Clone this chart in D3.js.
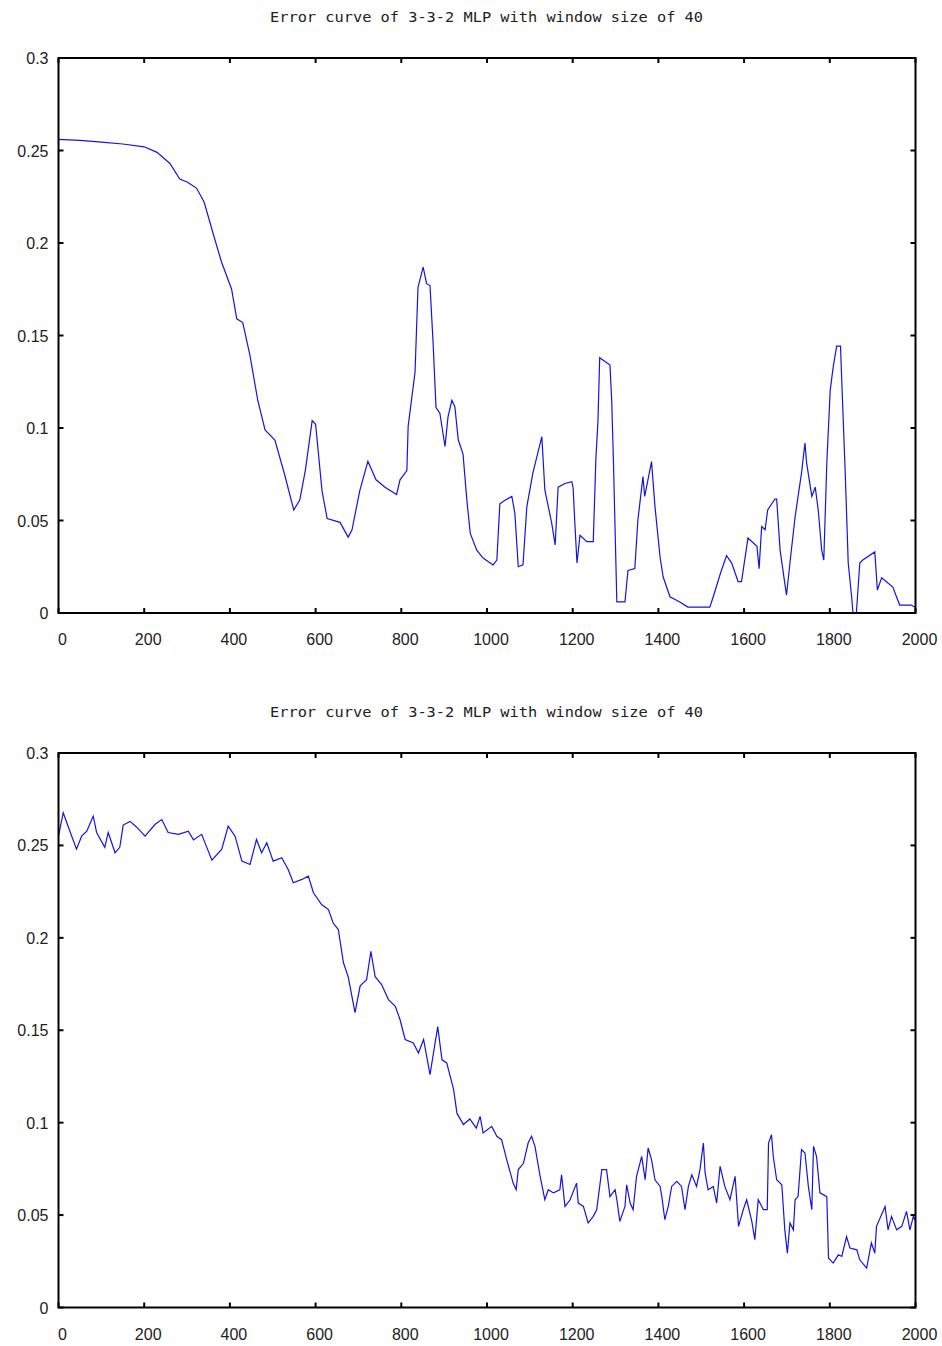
<!DOCTYPE html>
<html><head><meta charset="utf-8">
<script src="https://cdn.jsdelivr.net/npm/d3@7"></script>
<style>body{margin:0;background:#fff}svg{display:block}</style>
</head><body>
<svg id="c" width="942" height="1346"></svg>
<script>
const titleText = "Error curve of 3-3-2 MLP with window size of 40";
const xTicks = [0,200,400,600,800,1000,1200,1400,1600,1800,2000];
const yTicks = [0,0.05,0.1,0.15,0.2,0.25,0.3];
const yTickLabels = ["0","0.05","0.1","0.15","0.2","0.25","0.3"];

const topIter = [0,50,100,150,200,230,260,283,300,322,340,361,380,404,416,430,447,465,482,505,528,549,563,576,592,600,615,627,657,676,685,703,722,741,762,789,797,813,816,832,839,851,859,867,874,881,890,902,909,918,925,933,944,953,961,976,991,1014,1023,1030,1042,1058,1065,1073,1084,1093,1107,1128,1135,1151,1159,1166,1182,1198,1201,1205,1210,1217,1233,1248,1254,1259,1263,1287,1291,1295,1303,1322,1329,1345,1352,1364,1368,1384,1392,1404,1411,1427,1450,1469,1520,1528,1545,1559,1571,1586,1594,1609,1630,1635,1641,1649,1655,1672,1676,1684,1695,1699,1707,1719,1734,1742,1746,1758,1766,1773,1781,1786,1793,1801,1808,1816,1825,1828,1836,1843,1851,1854,1862,1870,1877,1905,1911,1921,1947,1963,1990,2000];
const topErr = [0.256,0.2555,0.2545,0.2535,0.252,0.249,0.243,0.2346,0.233,0.2297,0.222,0.205,0.19,0.175,0.159,0.157,0.139,0.115,0.099,0.0935,0.0746,0.0557,0.061,0.077,0.104,0.102,0.066,0.051,0.049,0.041,0.045,0.066,0.082,0.072,0.068,0.064,0.072,0.077,0.101,0.130,0.176,0.187,0.178,0.177,0.147,0.111,0.108,0.090,0.106,0.115,0.1115,0.0935,0.086,0.061,0.043,0.034,0.0297,0.026,0.0286,0.059,0.061,0.063,0.054,0.025,0.026,0.0575,0.0756,0.0953,0.0665,0.0486,0.0368,0.068,0.070,0.071,0.0675,0.0486,0.027,0.042,0.0386,0.0386,0.0827,0.104,0.138,0.134,0.115,0.0827,0.006,0.006,0.023,0.024,0.050,0.0737,0.063,0.0818,0.0575,0.030,0.0196,0.0088,0.006,0.0032,0.0032,0.0088,0.0216,0.031,0.027,0.017,0.017,0.0405,0.036,0.024,0.0467,0.045,0.0557,0.0616,0.0616,0.034,0.016,0.0097,0.027,0.052,0.0757,0.0918,0.081,0.063,0.068,0.0557,0.034,0.0286,0.081,0.1205,0.133,0.1443,0.1443,0.125,0.0757,0.027,0.0088,0,0,0.027,0.0286,0.033,0.0124,0.019,0.014,0.0043,0.0043,0.003];

const botIter = [0,3,11,23,42,54,66,81,89,108,116,132,143,151,167,182,202,225,241,256,280,303,315,334,358,381,396,412,428,447,462,474,486,501,521,536,548,568,583,595,614,630,641,653,665,676,692,704,719,729,739,754,770,786,797,809,828,840,852,867,885,895,906,922,930,945,960,975,984,991,1011,1023,1034,1046,1061,1068,1073,1085,1096,1104,1112,1124,1135,1143,1155,1170,1174,1182,1194,1209,1213,1225,1236,1248,1256,1268,1279,1287,1299,1303,1310,1322,1326,1334,1341,1349,1361,1369,1376,1384,1392,1404,1408,1415,1423,1431,1443,1454,1462,1470,1478,1489,1497,1505,1509,1516,1528,1536,1544,1555,1567,1579,1587,1598,1606,1618,1625,1633,1645,1654,1657,1664,1668,1676,1688,1695,1701,1707,1715,1719,1726,1734,1742,1750,1758,1762,1769,1777,1793,1797,1808,1820,1828,1839,1847,1863,1870,1886,1897,1905,1909,1929,1936,1944,1956,1968,1979,1987,1995,2000];
const botErr = [0.255,0.2586,0.2677,0.260,0.248,0.255,0.2577,0.2658,0.257,0.249,0.257,0.246,0.249,0.261,0.263,0.260,0.255,0.2613,0.264,0.257,0.256,0.2577,0.253,0.256,0.242,0.248,0.2604,0.255,0.2415,0.2397,0.2532,0.246,0.2514,0.2415,0.2433,0.237,0.2298,0.2316,0.2334,0.2244,0.218,0.2153,0.208,0.2045,0.1865,0.179,0.1595,0.174,0.1774,0.1927,0.179,0.1747,0.1666,0.163,0.1558,0.145,0.1431,0.1377,0.145,0.126,0.152,0.134,0.1323,0.118,0.105,0.099,0.102,0.097,0.1034,0.0944,0.098,0.0926,0.0908,0.080,0.0673,0.0637,0.0746,0.078,0.089,0.0926,0.0872,0.071,0.0583,0.0637,0.062,0.0637,0.0718,0.0547,0.0583,0.0673,0.0565,0.0547,0.0457,0.0493,0.0529,0.0746,0.0746,0.060,0.0637,0.0583,0.0466,0.0547,0.0664,0.0565,0.0529,0.071,0.0818,0.0691,0.0863,0.080,0.0691,0.0655,0.060,0.0475,0.0547,0.0655,0.0682,0.0655,0.0529,0.0655,0.0718,0.0655,0.0746,0.089,0.0728,0.0637,0.0655,0.0565,0.0764,0.0655,0.0583,0.071,0.0439,0.0529,0.0583,0.0466,0.0367,0.0583,0.0529,0.0529,0.089,0.0935,0.0818,0.0691,0.0664,0.042,0.0294,0.0457,0.042,0.0583,0.060,0.0854,0.0836,0.0655,0.0529,0.0872,0.0818,0.062,0.060,0.0267,0.024,0.0285,0.0276,0.0384,0.0322,0.0312,0.0258,0.0213,0.0349,0.0294,0.0439,0.0547,0.042,0.0493,0.042,0.0439,0.052,0.042,0.0493,0.047];

const svg = d3.select("#c");
const L = 58.5, R = 915.5;

function panel(top, bottom, titleY, iters, errs) {
  const x = d3.scaleLinear().domain([0,2000]).range([L,R]);
  const y = d3.scaleLinear().domain([0,0.3]).range([bottom, top]);
  const g = svg.append("g");
  g.append("text").attr("x", 486.5).attr("y", titleY)
    .attr("text-anchor","middle").attr("font-family","DejaVu Sans Mono, monospace")
    .attr("font-size", 14).attr("textLength", 433).attr("lengthAdjust","spacingAndGlyphs")
    .attr("fill","#222").text(titleText);
  const pts = iters.map((d,i)=>[d, errs[i]]);
  g.append("path").datum(pts)
    .attr("d", d3.line().x(d=>x(d[0])).y(d=>y(d[1])))
    .attr("fill","none").attr("stroke","#1414e0").attr("stroke-width",1.2);
  g.append("rect").attr("x",L).attr("y",top).attr("width",R-L).attr("height",bottom-top)
    .attr("fill","none").attr("stroke","#000").attr("stroke-width",2);
  const tl = 5;
  xTicks.forEach(t=>{
    g.append("line").attr("x1",x(t)).attr("x2",x(t)).attr("y1",bottom).attr("y2",bottom-tl).attr("stroke","#000").attr("stroke-width",2);
    g.append("line").attr("x1",x(t)).attr("x2",x(t)).attr("y1",top).attr("y2",top+tl).attr("stroke","#000").attr("stroke-width",2);
    g.append("text").attr("x",x(t)+4).attr("y",bottom+32).attr("text-anchor","middle")
      .attr("font-family","Liberation Sans, Arial, sans-serif").attr("font-size",16).attr("fill","#222").text(t);
  });
  yTicks.forEach((t,i)=>{
    g.append("line").attr("x1",L).attr("x2",L+tl).attr("y1",y(t)).attr("y2",y(t)).attr("stroke","#000").attr("stroke-width",2);
    g.append("line").attr("x1",R).attr("x2",R-tl).attr("y1",y(t)).attr("y2",y(t)).attr("stroke","#000").attr("stroke-width",2);
    g.append("text").attr("x",L-10).attr("y",y(t)+6).attr("text-anchor","end")
      .attr("font-family","Liberation Sans, Arial, sans-serif").attr("font-size",16).attr("fill","#222").text(yTickLabels[i]);
  });
}
panel(58, 613, 22, topIter, topErr);
panel(753, 1307.5, 717, botIter, botErr);
</script>
</body></html>
